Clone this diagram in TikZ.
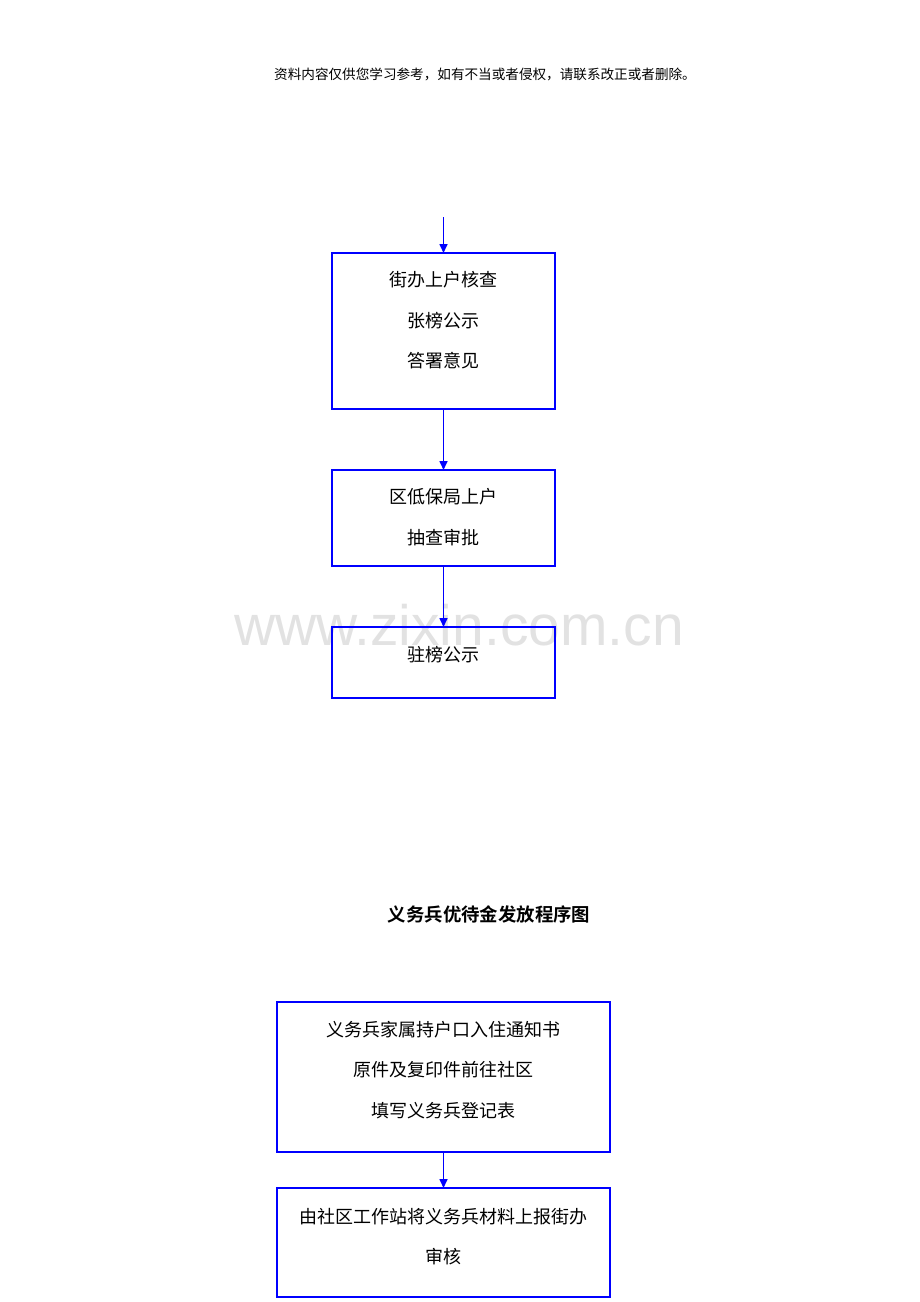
\documentclass[tikz,border=0pt]{standalone}
\usepackage{fontspec}
\newfontfamily\cjk{Noto Sans CJK SC}
\newfontfamily\cjkb{Noto Sans CJK SC Bold}
\newfontfamily\wmfont{Liberation Sans}
\usetikzlibrary{arrows.meta}
\definecolor{flowblue}{RGB}{0,0,255}
\definecolor{wmgray}{RGB}{226,226,226}
\tikzset{
  flowbox/.style={draw=flowblue, line width=1.1pt},
  flowarrow/.style={draw=flowblue, line width=1.6pt, -{Triangle[length=9pt,width=8pt]}},
  boxtext/.style={anchor=base, inner sep=0pt, font=\fontsize{18}{18}\cjk},
}
\begin{document}
\begin{tikzpicture}[x=1pt,y=-1pt]
\useasboundingbox (0,0) rectangle (920,1302);
% watermark
\node[anchor=base, inner sep=0pt, text=wmgray, font=\fontsize{57}{57}\wmfont] (wm) at (459,645) {www.zixin.com.cn};
% header
\node[anchor=base, inner sep=0pt, font=\fontsize{13.6}{13.6}\cjk] (hdr) at (485,79) {资料内容仅供您学习参考，如有不当或者侵权，请联系改正或者删除。};
% first flow
\coordinate (start) at (443.5,217);
\draw[flowbox] (332,253) rectangle (555,409);
\coordinate (b1top) at (443.5,253);
\coordinate (b1bot) at (443.5,409);
\node[boxtext] (t11) at (443.5,286) {街办上户核查};
\node[boxtext] (t12) at (443.5,327) {张榜公示};
\node[boxtext] (t13) at (443.5,367) {答署意见};
\draw[flowbox] (332,470) rectangle (555,566);
\coordinate (b2top) at (443.5,470);
\coordinate (b2bot) at (443.5,566);
\node[boxtext] (t21) at (443.5,503) {区低保局上户};
\node[boxtext] (t22) at (443.5,544) {抽查审批};
\draw[flowbox] (332,627) rectangle (555,698);
\coordinate (b3top) at (443.5,627);
\node[boxtext] (t31) at (443.5,661) {驻榜公示};
\draw[flowarrow] (start) -- (b1top);
\draw[flowarrow] (b1bot) -- (b2top);
\draw[flowarrow] (b2bot) -- (b3top);
% title
\node[anchor=base, inner sep=0pt, font=\fontsize{18.4}{18.4}\cjkb] (title) at (489,921) {义务兵优待金发放程序图};
% second flow
\draw[flowbox] (277,1002) rectangle (610,1152);
\coordinate (b4bot) at (443.5,1152);
\node[boxtext] (t41) at (443.5,1036) {义务兵家属持户口入住通知书};
\node[boxtext] (t42) at (443.5,1076) {原件及复印件前往社区};
\node[boxtext] (t43) at (443.5,1117) {填写义务兵登记表};
\draw[flowbox] (277,1188) rectangle (610,1297);
\coordinate (b5top) at (443.5,1188);
\node[boxtext] (t51) at (443.5,1223) {由社区工作站将义务兵材料上报街办};
\node[boxtext] (t52) at (443.5,1263) {审核};
\draw[flowarrow] (b4bot) -- (b5top);
\end{tikzpicture}
\end{document}
